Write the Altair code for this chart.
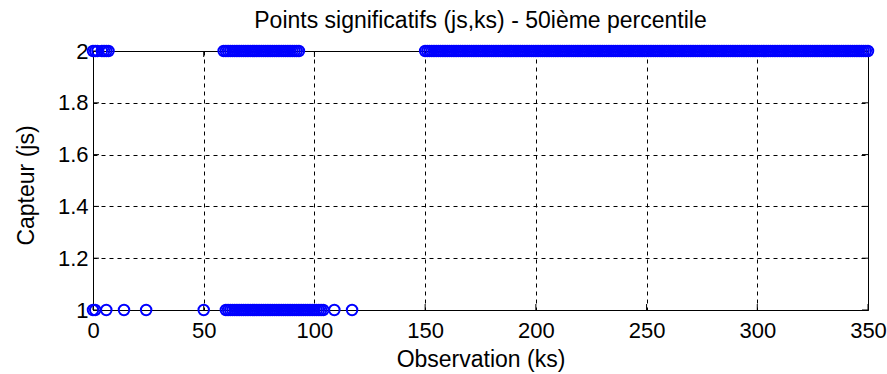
import altair as alt
import pandas as pd

title_text = "Points significatifs (js,ks) - 50ième percentile"
x_title = "Observation (ks)"
y_title = "Capteur (js)"

# observations flagged for sensor js = 2
obs_js2_a = [0, 1, 2, 4, 5, 6, 7]
obs_js2_b = [59, 60, 61, 62, 63, 64, 65, 66, 67, 68, 69, 70, 71, 72, 73, 74, 75, 76,
             77, 78, 79, 80, 81, 82, 83, 84, 85, 86, 87, 88, 89, 90, 91, 92, 93]
obs_js2_c = [150, 151, 152, 153, 154, 155, 156, 157, 158, 159,
             160, 161, 162, 163, 164, 165, 166, 167, 168, 169,
             170, 171, 172, 173, 174, 175, 176, 177, 178, 179,
             180, 181, 182, 183, 184, 185, 186, 187, 188, 189,
             190, 191, 192, 193, 194, 195, 196, 197, 198, 199,
             200, 201, 202, 203, 204, 205, 206, 207, 208, 209,
             210, 211, 212, 213, 214, 215, 216, 217, 218, 219,
             220, 221, 222, 223, 224, 225, 226, 227, 228, 229,
             230, 231, 232, 233, 234, 235, 236, 237, 238, 239,
             240, 241, 242, 243, 244, 245, 246, 247, 248, 249,
             250, 251, 252, 253, 254, 255, 256, 257, 258, 259,
             260, 261, 262, 263, 264, 265, 266, 267, 268, 269,
             270, 271, 272, 273, 274, 275, 276, 277, 278, 279,
             280, 281, 282, 283, 284, 285, 286, 287, 288, 289,
             290, 291, 292, 293, 294, 295, 296, 297, 298, 299,
             300, 301, 302, 303, 304, 305, 306, 307, 308, 309,
             310, 311, 312, 313, 314, 315, 316, 317, 318, 319,
             320, 321, 322, 323, 324, 325, 326, 327, 328, 329,
             330, 331, 332, 333, 334, 335, 336, 337, 338, 339,
             340, 341, 342, 343, 344, 345, 346, 347, 348, 349, 350]

# observations flagged for sensor js = 1
obs_js1 = [0, 1, 6, 14, 24, 50,
           60, 61, 62, 63, 64, 65, 66, 67, 68, 69, 70, 71, 72, 73, 74, 75, 76,
           77, 78, 79, 80, 81, 82, 83, 84, 85, 86, 87, 88, 89, 90, 91, 92, 93,
           94, 95, 96, 97, 98, 99, 100, 101, 102, 103, 104, 109, 117]

x_ticks = [0, 50, 100, 150, 200, 250, 300, 350]
y_ticks = [1, 1.2, 1.4, 1.6, 1.8, 2]

W, H = 775, 259
FONT = "Liberation Sans"

obs_js2 = obs_js2_a + obs_js2_b + obs_js2_c
df = pd.DataFrame({
    "ks": obs_js2 + obs_js1,
    "js": [2] * len(obs_js2) + [1] * len(obs_js1),
})

xscale = alt.Scale(domain=[0, 350], nice=False, zero=False)
yscale = alt.Scale(domain=[1, 2], nice=False, zero=False)

x_axis = alt.Axis(
    values=x_ticks, title=x_title, grid=True, gridDash=[4, 4],
    gridColor="black", gridOpacity=1, gridWidth=1,
    ticks=False, domain=False, labelFlush=False,
    labelFont=FONT, labelFontSize=22, labelColor="black", labelPadding=10,
    titleFont=FONT, titleFontSize=23, titleFontWeight="normal",
    titleColor="black", titleX=W / 2, titleY=56,
    titleBaseline="alphabetic", titleAlign="center")
y_axis = alt.Axis(
    values=y_ticks, format="~g", title=y_title, grid=True, gridDash=[4, 4],
    gridColor="black", gridOpacity=1, gridWidth=1,
    ticks=False, domain=False, labelFlush=False,
    labelFont=FONT, labelFontSize=22, labelColor="black", labelPadding=5,
    titleFont=FONT, titleFontSize=23, titleFontWeight="normal",
    titleColor="black", titleX=-67, titleY=134, titleAngle=270,
    titleBaseline="middle", titleAlign="center")

points = alt.Chart(df).mark_point(
    shape="circle", filled=False, color="#0000ff", size=110,
    strokeWidth=2, opacity=1
).encode(
    x=alt.X("ks:Q", scale=xscale, axis=x_axis),
    y=alt.Y("js:Q", scale=yscale, axis=y_axis),
)

xt = pd.DataFrame({"ks": x_ticks})
yt = pd.DataFrame({"js": y_ticks})

xt_bottom = alt.Chart(xt).mark_rule(color="black", strokeWidth=1).encode(
    x=alt.X("ks:Q", scale=xscale, axis=x_axis), y=alt.value(H), y2=alt.value(H - 6))
xt_top = alt.Chart(xt).mark_rule(color="black", strokeWidth=1).encode(
    x=alt.X("ks:Q", scale=xscale, axis=x_axis), y=alt.value(0), y2=alt.value(6))
yt_left = alt.Chart(yt).mark_rule(color="black", strokeWidth=1).encode(
    y=alt.Y("js:Q", scale=yscale, axis=y_axis), x=alt.value(0), x2=alt.value(6))
yt_right = alt.Chart(yt).mark_rule(color="black", strokeWidth=1).encode(
    y=alt.Y("js:Q", scale=yscale, axis=y_axis), x=alt.value(W), x2=alt.value(W - 6))

chart = alt.layer(xt_bottom, xt_top, yt_left, yt_right, points).properties(
    width=W, height=H,
    title=alt.TitleParams(text=title_text, font=FONT, fontSize=23,
                          fontWeight="normal", color="black", anchor="middle",
                          baseline="alphabetic", offset=12, dy=23),
    autosize=alt.AutoSizeParams(type="none"),
    padding={"left": 93, "top": 51, "right": 19, "bottom": 64},
).configure(background="white").configure_view(
    stroke="black", strokeWidth=1
)

chart.save("out.html", embed_options={"renderer": "svg", "actions": False})
